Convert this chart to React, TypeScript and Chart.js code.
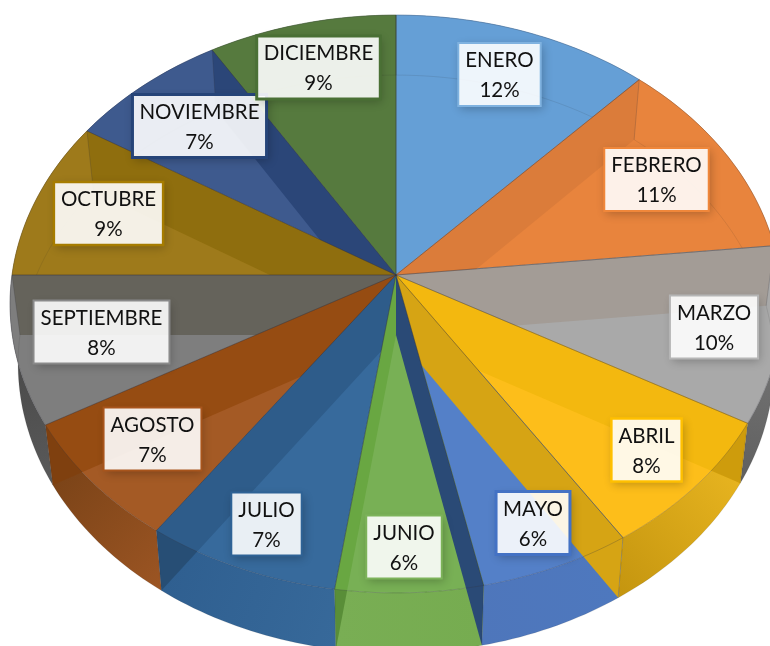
import React, { useEffect, useRef } from "react";
import { Chart, registerables } from "chart.js";

Chart.register(...registerables);

const months = ["ENERO","FEBRERO","MARZO","ABRIL","MAYO","JUNIO","JULIO","AGOSTO","SEPTIEMBRE","OCTUBRE","NOVIEMBRE","DICIEMBRE"];
const shares = [11.9, 11.45, 9.85, 7.7, 5.8, 5.6, 7.4, 7.0, 8.3, 8.9, 7.4, 8.7];

// Styles, per slice
const topColors = ["#659FD6","#E8843D","#A9A9A9","#FDBE1A","#5480C8","#78B055","#376A9C","#A45A25","#7E7E7E","#9E7A1B","#3E5A8E","#567A3E"];
const wallStart = ["#5B93C8","#D0752F","#5F5F5F","#C4950F","#4E76BB","#79AE54","#2F5F90","#7C4418","#474747","#8A6A10","#34507F","#4A6C35"];
const wallEnd = ["#5B93C8","#D0752F","#7A7A7A","#E6B31F","#4E78BE","#76AC50","#37699A","#9C5523","#5A5A5A","#8A6A10","#34507F","#4A6C35"];
// Colour of the radial wall at the END of slice i (clockwise boundary i)
const bandColors = ["#DB7C3A","#A39C96","#F3B80F","#D6A414","#2A4A76","#69A742","#2E5C8A","#964C12","#65635B","#8F6E0E","#2B4678","#567A3E"];
// Which slice's outer wall each front radial wall overlaps (darker where they cross)
const bandOverWall: Record<number, number> = { 2: 3, 5: 5, 6: 6, 7: 7 };
const borderColors = ["#7FB2E0","#F0873A","#B5B5B5","#FFC000","#4472C4","#7DB35A","#2F6396","#A8551C","#8A8A8A","#A67C00","#264478","#4A7035"];
const borderWidths = [2, 2, 2, 2.5, 3, 2, 2, 2, 2, 2.5, 3, 3];
const labelCenters = [[499.5,74.5],[656.5,179.5],[714,327],[646.5,450],[533,523],[404,547],[266.5,524],[152.5,439],[101.5,332],[108.5,213.5],[199.5,126],[318.5,67.5]];

const PLANE = { B: 286, k: 0.1004, top: { A: 384, cy: 275 }, bottom: { A: 376, cy: 335 }, cx: 396 };

type Level = { A: number; cy: number };
const project = (theta: number, lv: Level, r = 1) => {
  const u = Math.sin(theta) * r, v = Math.cos(theta) * r;
  const w = 1 + PLANE.k * v;
  return { x: PLANE.cx + (lv.A * u) / w, y: lv.cy - (PLANE.B * v) / w };
};
const rimPath = (ctx: CanvasRenderingContext2D, a: number, b: number, lv: Level, move = false) => {
  const n = Math.max(2, Math.ceil(Math.abs(b - a) / 0.02));
  for (let i = 0; i <= n; i++) {
    const p = project(a + ((b - a) * i) / n, lv);
    if (i === 0 && move) ctx.moveTo(p.x, p.y); else ctx.lineTo(p.x, p.y);
  }
};

const pie3d = {
  id: "pie3d",
  beforeDatasetDraw(chart: any) {
    const ctx: CanvasRenderingContext2D = chart.ctx;
    const arcs = chart.getDatasetMeta(0).data;
    const ang = arcs.map((a: any) => {
      const p = a.getProps(["startAngle", "endAngle"], true);
      return [p.startAngle + Math.PI / 2, p.endAngle + Math.PI / 2];
    });
    const { top, bottom } = PLANE;
    const wallOutline = (i: number) => {
      ctx.beginPath();
      rimPath(ctx, ang[i][0], ang[i][1], top, true);
      rimPath(ctx, ang[i][1], ang[i][0], bottom);
      ctx.closePath();
    };
    const bandOutline = (i: number) => {
      const t = ang[i][1];
      const a = project(t, top), b = project(t, bottom);
      ctx.beginPath();
      ctx.moveTo(PLANE.cx, top.cy);
      ctx.lineTo(a.x, a.y);
      ctx.lineTo(b.x, b.y);
      ctx.lineTo(PLANE.cx, bottom.cy);
      ctx.closePath();
    };
    ctx.save();
    ctx.lineJoin = "round";

    // outer walls
    ang.forEach(([a, b]: number[], i: number) => {
      const p0 = project(a, bottom), p1 = project(b, bottom);
      const g = ctx.createLinearGradient(p1.x, p1.y, p0.x, p0.y);
      g.addColorStop(0, wallStart[i]);
      g.addColorStop(1, wallEnd[i]);
      wallOutline(i);
      ctx.fillStyle = g;
      ctx.fill();
    });

    // top faces
    ang.forEach(([a, b]: number[], i: number) => {
      ctx.beginPath();
      ctx.moveTo(PLANE.cx, top.cy);
      rimPath(ctx, a, b, top);
      ctx.closePath();
      ctx.fillStyle = topColors[i];
      ctx.fill();
      ctx.strokeStyle = topColors[i];
      ctx.lineWidth = 0.5;
      ctx.stroke();
    });

    // far part of the lower rim, faintly seen through the faces
    ang.forEach(([a, b]: number[]) => {
      ctx.beginPath();
      rimPath(ctx, a, b, bottom, true);
      ctx.strokeStyle = "rgba(40,40,40,0.11)";
      ctx.lineWidth = 1;
      ctx.stroke();
    });

    // radial walls, back to front: right side ascending, left side descending
    const order = [0, 1, 2, 3, 4, 10, 9, 8, 7, 6, 5];
    order.forEach((i) => {
      bandOutline(i);
      ctx.fillStyle = bandColors[i];
      ctx.fill();
      const w = bandOverWall[i];
      if (w !== undefined) {
        ctx.save();
        wallOutline(w);
        ctx.clip();
        bandOutline(i);
        ctx.fillStyle = "rgba(0,0,0,0.15)";
        ctx.fill();
        ctx.restore();
      }
    });

    // top rim and radial edges
    ang.forEach(([a, b]: number[]) => {
      ctx.beginPath();
      ctx.moveTo(PLANE.cx, top.cy);
      rimPath(ctx, a, b, top);
      ctx.closePath();
      ctx.strokeStyle = "rgba(50,50,60,0.26)";
      ctx.lineWidth = 1;
      ctx.stroke();
      const q0 = project(b, top), q1 = project(b, bottom);
      ctx.beginPath();
      ctx.moveTo(q0.x, q0.y);
      ctx.lineTo(q1.x, q1.y);
      ctx.strokeStyle = "rgba(50,50,60,0.22)";
      ctx.stroke();
    });
    ctx.restore();
    return false;
  },
  afterDatasetsDraw(chart: any) {
    const ctx: CanvasRenderingContext2D = chart.ctx;
    const values: number[] = chart.data.datasets[0].data;
    const total = values.reduce((s, v) => s + v, 0);
    ctx.save();
    ctx.font = '20.5px Lato, "Open Sans", sans-serif';
    ctx.textAlign = "center";
    ctx.textBaseline = "middle";
    chart.data.labels.forEach((name: string, i: number) => {
      const [cx, cy] = labelCenters[i];
      const w = ctx.measureText(name).width + 14;
      const h = 63;
      const x = cx - w / 2, y = cy - h / 2;
      ctx.save();
      const clip = new Path2D();
      clip.rect(0, 0, 770, 646);
      clip.rect(x, y, w, h);
      ctx.clip(clip, "evenodd");
      ctx.shadowColor = "rgba(0,0,0,0.24)";
      ctx.shadowBlur = 9;
      ctx.shadowOffsetX = 2;
      ctx.shadowOffsetY = 3;
      ctx.fillStyle = "#000";
      ctx.fillRect(x, y, w, h);
      ctx.restore();
      ctx.fillStyle = "rgba(255,255,255,0.89)";
      ctx.fillRect(x, y, w, h);
      ctx.strokeStyle = borderColors[i];
      ctx.lineWidth = borderWidths[i];
      ctx.strokeRect(x, y, w, h);
      ctx.fillStyle = "#111";
      ctx.fillText(name, cx, cy - 14);
      ctx.fillText(`${Math.round((values[i] / total) * 100)}%`, cx, cy + 16);
    });
    ctx.restore();
  },
};

export default function App() {
  const ref = useRef<HTMLCanvasElement>(null);
  useEffect(() => {
    const chart = new Chart(ref.current!, {
      type: "pie",
      data: { labels: months, datasets: [{ data: shares, backgroundColor: topColors }] },
      options: {
        animation: false,
        responsive: false,
        devicePixelRatio: 1,
        plugins: { legend: { display: false }, tooltip: { enabled: false } },
      },
      plugins: [pie3d],
    } as any);
    return () => chart.destroy();
  }, []);
  return (
    <canvas
      ref={ref}
      width={770}
      height={646}
      style={{ position: "absolute", left: 0, top: 0, width: 770, height: 646, display: "block" }}
    />
  );
}
